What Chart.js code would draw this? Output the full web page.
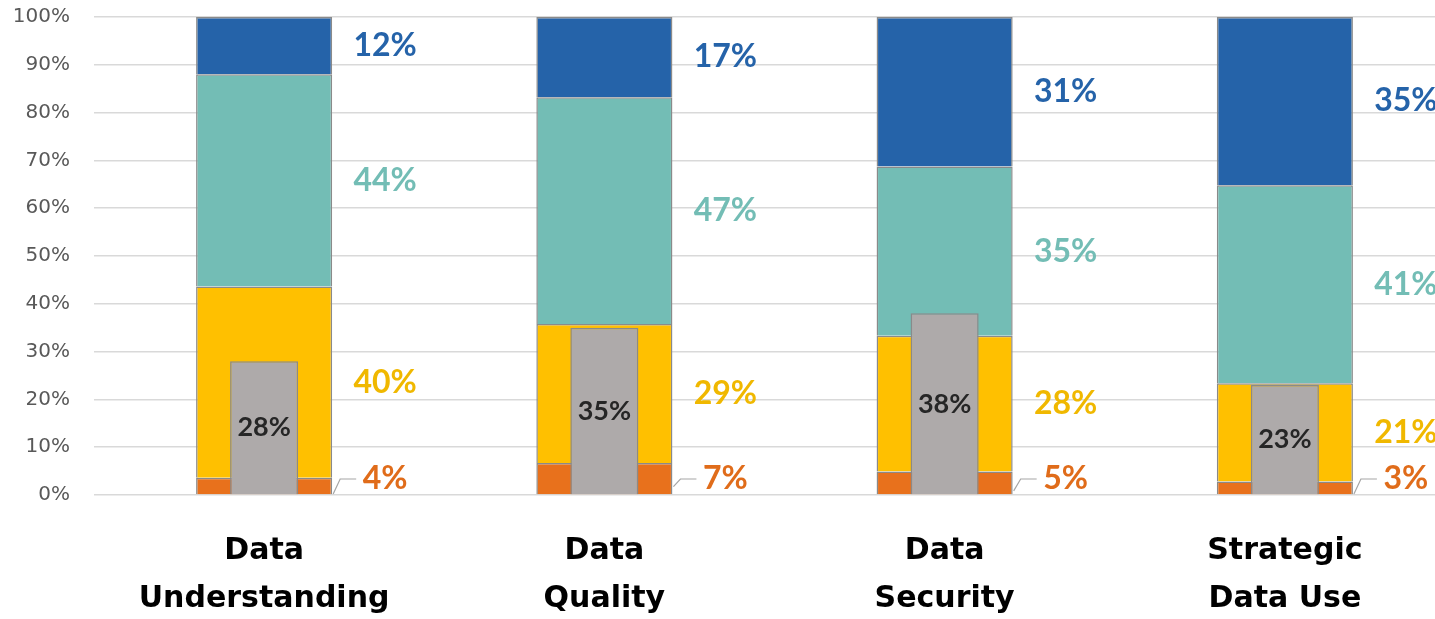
<!DOCTYPE html>
<html>
<head>
<meta charset="utf-8">
<script src="https://cdn.jsdelivr.net/npm/chart.js@4.4.1/dist/chart.umd.min.js"></script>
<style>
  html, body { margin: 0; padding: 0; background: #fff; overflow: hidden; }
  #wrap { position: relative; width: 1455px; height: 619px; }
</style>
</head>
<body>
<div id="wrap"><canvas id="myChart"></canvas></div>
<script>
// categories and values (percent)
const categorias = [['Data', 'Understanding'], ['Data', 'Quality'], ['Data', 'Security'], ['Strategic', 'Data Use']];
const valoresLaranja = [3.6, 6.7, 4.9, 2.8];
const valoresAmarelo = [40.0, 29.1, 28.4, 20.6];
const valoresVerde = [44.4, 47.4, 35.4, 41.4];
const valoresAzul = [12.0, 16.8, 31.3, 35.2];
const valoresCinza = [28, 35, 38, 23];
const ticksY = [0, 10, 20, 30, 40, 50, 60, 70, 80, 90, 100];

const ctx = document.getElementById('myChart');

// labels to the right of every stacked segment, label inside the grey bar
const rotulos = {
  id: 'rotulos',
  afterDatasetsDraw(chart) {
    const c = chart.ctx;
    const yScale = chart.scales.y;
    const zero = yScale.getPixelForValue(0);
    c.save();
    chart.data.datasets.forEach((ds, di) => {
      const meta = chart.getDatasetMeta(di);
      meta.data.forEach((bar, i) => {
        const v = ds.data[i];
        const txt = Math.round(v) + '%';
        const meio = (bar.y + bar.base) / 2;
        c.textBaseline = 'middle';
        c.textAlign = 'center';
        if (ds.cinza) {
          c.font = 'bold 27px Lato';
          c.fillStyle = '#262626';
          c.fillText(txt, bar.x, meio);
          return;
        }
        const dir = bar.x + bar.width / 2;
        let yTxt = meio;
        if (ds.pequeno) {
          yTxt = zero - 16;
          c.strokeStyle = '#a6a6a6';
          c.lineWidth = 1.2;
          c.beginPath();
          c.moveTo(dir + 1, Math.min(meio + 8, zero - 1));
          c.lineTo(dir + 8, yTxt);
          c.lineTo(dir + 24, yTxt);
          c.stroke();
        }
        c.font = 'bold 32px Lato';
        c.fillStyle = ds.corTexto;
        c.fillText(txt, dir + 53, yTxt);
      });
    });
    c.restore();
  }
};

new Chart(ctx, {
  type: 'bar',
  data: {
    labels: categorias,
    datasets: [
      {
        label: 'Cinza',
        data: valoresCinza,
        backgroundColor: '#aeaaaa',
        borderColor: '#8a8a8a',
        borderWidth: 1.5,
        stack: 'cinza',
        grouped: false,
        order: 0,
        categoryPercentage: 0.8,
        barPercentage: 0.25,
        cinza: true
      },
      {
        label: 'Laranja',
        data: valoresLaranja,
        backgroundColor: '#e8711c',
        borderColor: '#8a8a8a',
        borderWidth: 1.5,
        stack: 'pilha',
        grouped: false,
        order: 1,
        categoryPercentage: 0.8,
        barPercentage: 0.5,
        corTexto: '#e06c1a',
        pequeno: true
      },
      {
        label: 'Amarelo',
        data: valoresAmarelo,
        backgroundColor: '#ffc000',
        borderColor: '#8a8a8a',
        borderWidth: 1.5,
        stack: 'pilha',
        grouped: false,
        order: 1,
        categoryPercentage: 0.8,
        barPercentage: 0.5,
        corTexto: '#f0b800'
      },
      {
        label: 'Verde',
        data: valoresVerde,
        backgroundColor: '#73bdb5',
        borderColor: '#8a8a8a',
        borderWidth: 1.5,
        stack: 'pilha',
        grouped: false,
        order: 1,
        categoryPercentage: 0.8,
        barPercentage: 0.5,
        corTexto: '#73bdb5'
      },
      {
        label: 'Azul',
        data: valoresAzul,
        backgroundColor: '#2563a9',
        borderColor: '#8a8a8a',
        borderWidth: 1.5,
        stack: 'pilha',
        grouped: false,
        order: 1,
        categoryPercentage: 0.8,
        barPercentage: 0.5,
        corTexto: '#2563a9'
      }
    ]
  },
  options: {
    responsive: true,
    maintainAspectRatio: false,
    animation: false,
    layout: { padding: { top: 17, left: 0, right: 0, bottom: 0 } },
    scales: {
      x: {
        stacked: true,
        grid: { display: false, drawTicks: false },
        border: { display: false },
        ticks: {
          color: '#000',
          padding: 32,
          maxRotation: 0,
          autoSkip: false,
          font: { family: 'DejaVu Sans', weight: 'bold', size: 30, lineHeight: '48px' }
        },
        afterFit(axis) {
          axis.height = 124;
          axis.paddingTop = 0;
          axis.paddingBottom = 0;
        }
      },
      y: {
        stacked: true,
        min: 0,
        max: 100,
        afterBuildTicks(axis) { axis.ticks = ticksY.map(v => ({ value: v })); },
        grid: { color: '#d9d9d9', lineWidth: 1.5, drawTicks: false },
        border: { display: false },
        ticks: {
          color: '#595959',
          padding: 24,
          font: { family: 'DejaVu Sans', size: 20 },
          callback: v => v + '%'
        },
        afterFit(axis) {
          axis.width = 94;
          axis.paddingTop = 0;
          axis.paddingBottom = 0;
        }
      }
    },
    plugins: {
      legend: { display: false },
      tooltip: { enabled: false }
    }
  },
  plugins: [rotulos]
});
</script>
</body>
</html>
